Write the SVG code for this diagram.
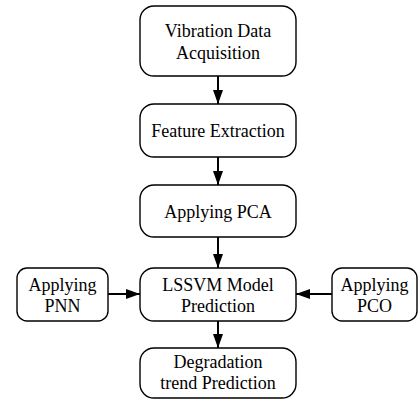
<svg xmlns="http://www.w3.org/2000/svg" width="418" height="403" viewBox="0 0 418 403">
<style>
.box{fill:#fff;stroke:#000;stroke-width:1.4}
.t{font-family:'Liberation Serif','DejaVu Serif',serif;font-size:18px;fill:#000;text-anchor:middle}
.c{stroke:#000;stroke-width:2;fill:none}
</style>
<defs>
<marker id="ah" markerWidth="14" markerHeight="10" refX="14" refY="5" orient="auto" markerUnits="userSpaceOnUse">
<path d="M0,0 L14,5 L0,10 Z" fill="#000"/>
</marker>
</defs>
<rect width="418" height="403" fill="#fff"/>
<g id="connectors">
<line class="c" x1="218" y1="76" x2="218" y2="104" marker-end="url(#ah)"/>
<line class="c" x1="218" y1="157" x2="218" y2="185" marker-end="url(#ah)"/>
<line class="c" x1="218" y1="237" x2="218" y2="268" marker-end="url(#ah)"/>
<line class="c" x1="218" y1="321" x2="218" y2="348" marker-end="url(#ah)"/>
<line class="c" x1="108" y1="294" x2="140" y2="294" marker-end="url(#ah)"/>
<line class="c" x1="332" y1="294" x2="296" y2="294" marker-end="url(#ah)"/>
</g>
<g id="n1"><rect class="box" x="140" y="6" width="156" height="70" rx="14"/>
<text class="t" x="218" y="37" font-family="Liberation Serif, serif">Vibration Data</text><text class="t" x="218" y="59" font-family="Liberation Serif, serif">Acquisition</text></g>
<g id="n2"><rect class="box" x="140" y="104" width="156" height="53" rx="14"/>
<text class="t" x="218" y="137" font-family="Liberation Serif, serif">Feature Extraction</text></g>
<g id="n3"><rect class="box" x="140" y="185" width="156" height="52" rx="14"/>
<text class="t" x="218" y="218" font-family="Liberation Serif, serif">Applying PCA</text></g>
<g id="n4"><rect class="box" x="140" y="268" width="156" height="53" rx="14"/>
<text class="t" x="218" y="291" font-family="Liberation Serif, serif">LSSVM Model</text><text class="t" x="218" y="312" font-family="Liberation Serif, serif">Prediction</text></g>
<g id="n5"><rect class="box" x="17" y="268" width="91" height="53" rx="10"/>
<text class="t" x="62.5" y="291" font-family="Liberation Serif, serif">Applying</text><text class="t" x="62.5" y="312" font-family="Liberation Serif, serif">PNN</text></g>
<g id="n6"><rect class="box" x="332" y="268" width="85" height="53" rx="10"/>
<text class="t" x="374.5" y="291" font-family="Liberation Serif, serif">Applying</text><text class="t" x="374.5" y="312" font-family="Liberation Serif, serif">PCO</text></g>
<g id="n7"><rect class="box" x="140" y="348" width="156" height="50" rx="14"/>
<text class="t" x="218" y="368" font-family="Liberation Serif, serif">Degradation</text><text class="t" x="218" y="389" font-family="Liberation Serif, serif">trend Prediction</text></g>
</svg>
